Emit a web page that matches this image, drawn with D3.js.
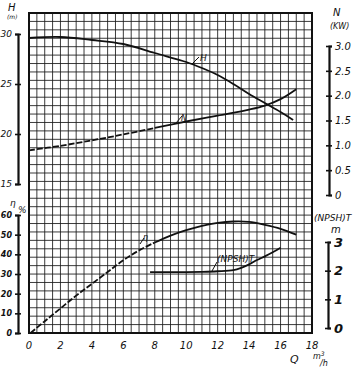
<!DOCTYPE html>
<html>
<head>
<meta charset="utf-8">
<script src="https://cdn.jsdelivr.net/npm/d3@7"></script>
<style>
  body { margin: 0; background: #fff; }
  svg { display: block; }
  text { font-family: "DejaVu Sans", sans-serif; font-style: italic; fill: #111; }
  .grid line { stroke: #1a1a1a; stroke-width: 1; opacity: 0.85; }
  .curve { fill: none; stroke: #111; stroke-width: 1.8; }
  .bar .domain { stroke: #111; stroke-width: 2.2; }
  .bar .tick line { stroke: #111; stroke-width: 1.6; }
</style>
</head>
<body>
<svg width="363" height="368"></svg>
<script>
// flow Q (m3/h) for each curve
var qH   = [0, 2, 4, 6, 8, 10, 11, 12, 13, 14, 15, 16, 16.8];
var hVal = [29.6, 29.7, 29.4, 29.0, 28.1, 27.2, 26.6, 25.9, 25.0, 24.0, 23.1, 22.2, 21.4];

var qN   = [0, 2, 4, 6, 8, 10, 12, 14, 15, 16, 17];
var nVal = [0.9, 0.99, 1.1, 1.22, 1.35, 1.48, 1.6, 1.72, 1.8, 1.93, 2.13];

var qEta   = [0.1, 1, 2, 3, 4, 5, 6, 7, 8, 9, 10, 11, 12, 13, 14, 15, 16, 17];
var etaVal = [0, 6, 12.5, 19, 25, 31, 37, 42, 46, 49.5, 52.3, 54.5, 56, 56.7, 56.5, 55, 53, 50];

var qNpsh   = [7.7, 9, 10, 11, 12, 13, 13.5, 14, 14.5, 15, 15.5, 16];
var npshVal = [1.95, 1.95, 1.95, 1.96, 1.98, 2.02, 2.1, 2.22, 2.37, 2.5, 2.64, 2.8];

var xTicks    = [0, 2, 4, 6, 8, 10, 12, 14, 16, 18];
var hTicks    = [15, 20, 25, 30];
var nTicks    = [0, 0.5, 1.0, 1.5, 2.0, 2.5, 3.0];
var etaTicks  = [0, 10, 20, 30, 40, 50, 60];
var npshTicks = [0, 1, 2, 3];

var svg = d3.select("svg");

// scales
var x = d3.scaleLinear().domain([0, 18]).range([29, 312]);
var gy = d3.scaleLinear().domain([0, 38]).range([333, 13]);   // graph paper rows
var yH = d3.scaleLinear().domain([15, 30]).range([184, 34]);
var yN = d3.scaleLinear().domain([0, 3]).range([195, 46]);
var yEta = d3.scaleLinear().domain([0, 60]).range([333, 215]);
var yNpsh = d3.scaleLinear().domain([0, 3]).range([328, 242]);

// graph paper
var grid = svg.append("g").attr("class", "grid");
grid.selectAll(".v").data(d3.range(0, 18.01, 0.5)).enter().append("line")
    .attr("x1", function (d) { return x(d); }).attr("x2", function (d) { return x(d); })
    .attr("y1", gy(0)).attr("y2", gy(38));
grid.selectAll(".h").data(d3.range(0, 38.01, 1)).enter().append("line")
    .attr("x1", x(0)).attr("x2", x(18))
    .attr("y1", function (d) { return gy(d); }).attr("y2", function (d) { return gy(d); });
// heavier frame
svg.append("rect")
    .attr("x", x(0)).attr("y", gy(38))
    .attr("width", x(18) - x(0)).attr("height", gy(0) - gy(38))
    .attr("fill", "none").attr("stroke", "#111").attr("stroke-width", 2);

// x tick labels
svg.append("g").selectAll("text").data(xTicks).enter().append("text")
    .attr("x", function (d) { return x(d); })
    .attr("y", 349)
    .attr("text-anchor", "middle")
    .attr("font-size", 10)
    .text(function (d) { return d; });

svg.append("text").attr("x", 290).attr("y", 363).attr("font-size", 11).text("Q");
var unit = svg.append("text").attr("x", 313).attr("y", 359).attr("font-size", 8);
unit.append("tspan").text("m");
unit.append("tspan").attr("dy", -3).attr("font-size", 6).text("3");
svg.append("text").attr("x", 320).attr("y", 366).attr("font-size", 8).text("/h");

// side axes: bar with ticks crossing it
function bar(scale, ticks, xpos, left, fmt, fsize, weight) {
    var ax = (left ? d3.axisLeft(scale) : d3.axisRight(scale))
        .tickValues(ticks).tickSizeOuter(0).tickSize(3).tickPadding(3)
        .tickFormat(fmt);
    var g = svg.append("g").attr("class", "bar")
        .attr("transform", "translate(" + xpos + ",0)")
        .call(ax);
    g.selectAll(".tick line").attr("x1", -3).attr("x2", 3);
    g.selectAll(".tick text")
        .attr("font-size", fsize)
        .attr("font-weight", weight)
        .attr("font-family", null)
        .attr("fill", "#111");
    return g;
}
bar(yH, hTicks, 18, true, d3.format("d"), 9, "normal");
bar(yEta, etaTicks, 18, true, d3.format("d"), 8, "bold");
bar(yN, nTicks, 329, false, function (d) { return d === 0 ? "0" : d3.format(".1f")(d); }, 10, "normal");
bar(yNpsh, npshTicks, 328, false, d3.format("d"), 13, "bold");

// axis titles
svg.append("text").attr("x", 8).attr("y", 11).attr("font-size", 10).text("H");
svg.append("text").attr("x", 7).attr("y", 19).attr("font-size", 6).text("(m)");
svg.append("text").attr("x", 333).attr("y", 16).attr("font-size", 10).text("N");
svg.append("text").attr("x", 330).attr("y", 29).attr("font-size", 8).text("(KW)");
svg.append("text").attr("x", 10).attr("y", 206).attr("font-size", 9).text("η");
svg.append("text").attr("x", 18).attr("y", 213).attr("font-size", 9).text("%");
svg.append("text").attr("x", 314).attr("y", 221).attr("font-size", 9).text("(NPSH)T");
svg.append("text").attr("x", 331).attr("y", 233).attr("font-size", 10).text("m");

// curves; the faint scanned start of a curve is drawn dashed up to index `split`
function curve(qs, vs, scale, split) {
    var line = d3.line()
        .x(function (d) { return x(qs[d]); })
        .y(function (d) { return scale(vs[d]); })
        .curve(d3.curveCatmullRom);
    var idx = d3.range(vs.length);
    var k = split || 0;
    if (k > 0) {
        svg.append("path").attr("class", "curve")
            .attr("stroke-dasharray", "6,2")
            .attr("d", line(idx.slice(0, k + 1)));
    }
    svg.append("path").attr("class", "curve").attr("d", line(idx.slice(k)));
}
curve(qH, hVal, yH, 0);
curve(qN, nVal, yN, 4);
curve(qEta, etaVal, yEta, 8);
curve(qNpsh, npshVal, yNpsh, 0);

// curve labels with leader strokes
function tag(txt, tx, ty, lx1, ly1, lx2, ly2, fs) {
    svg.append("line").attr("x1", lx1).attr("y1", ly1).attr("x2", lx2).attr("y2", ly2)
        .attr("stroke", "#111").attr("stroke-width", 1);
    svg.append("text").attr("x", tx).attr("y", ty).attr("font-size", fs).text(txt);
}
tag("H", 200, 61, 192, 64, 199, 57, 9);
tag("N", 181, 121, 176, 123, 182, 116, 8);
tag("η", 143, 240, 140, 244, 144, 238, 8);
tag("(NPSH)T", 217, 262, 212, 271, 217, 262, 9);
</script>
</body>
</html>
